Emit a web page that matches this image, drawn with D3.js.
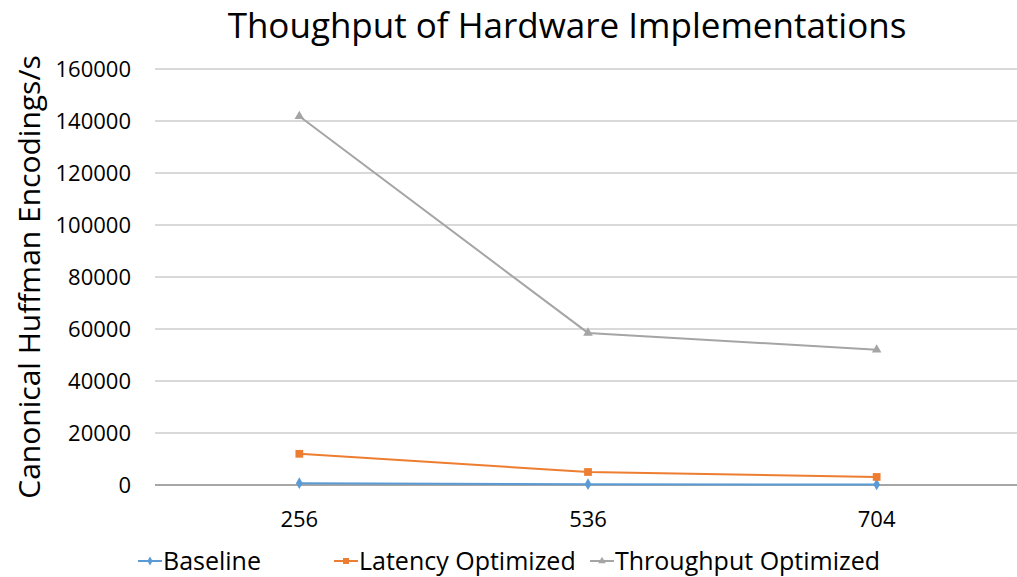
<!DOCTYPE html>
<html>
<head>
<script src="https://d3js.org/d3.v7.min.js"></script>
<style>
body { margin: 0; background: #fff; }
text { font-family: "Open Sans", sans-serif; fill: #000; }
</style>
</head>
<body>
<svg width="1017" height="577"></svg>
<script>

var categories = ["256", "536", "704"];
var yTicks = [0, 20000, 40000, 60000, 80000, 100000, 120000, 140000, 160000];
var baseline = [700, 300, 200];
var latency = [12000, 5000, 3100];
var throughput = [141800, 58500, 52000];

var series = [
	{name: "Baseline", values: baseline, color: "#5b9bd5", shape: "diamond"},
	{name: "Latency Optimized", values: latency, color: "#ed7d31", shape: "square"},
	{name: "Throughput Optimized", values: throughput, color: "#a5a5a5", shape: "triangle"}
];

var svg = d3.select("svg");
var plotLeft = 155, plotRight = 1021, plotTop = 69, plotBottom = 485;

var x = d3.scaleBand().domain(categories).range([plotLeft, plotRight]);
var y = d3.scaleLinear().domain([0, 160000]).range([plotBottom, plotTop]);

// gridlines
svg.append("g")
	.selectAll("line")
	.data(yTicks.slice(1))
	.enter().append("line")
	.attr("x1", plotLeft).attr("x2", plotRight)
	.attr("y1", function(d) { return y(d); })
	.attr("y2", function(d) { return y(d); })
	.attr("stroke", "#b3b3b3")
	.attr("stroke-width", 1.2);

svg.append("line")
	.attr("x1", plotLeft).attr("x2", plotRight)
	.attr("y1", y(0)).attr("y2", y(0))
	.attr("stroke", "#898989")
	.attr("stroke-width", 1.5);

// y tick labels
svg.append("g")
	.selectAll("text")
	.data(yTicks)
	.enter().append("text")
	.attr("x", 131)
	.attr("y", function(d) { return y(d); })
	.attr("dy", "0.35em")
	.attr("text-anchor", "end")
	.attr("font-size", 22)
	.text(function(d) { return d; });

// x tick labels
svg.append("g")
	.selectAll("text")
	.data(categories)
	.enter().append("text")
	.attr("x", function(d) { return x(d) + x.bandwidth() / 2; })
	.attr("y", 519)
	.attr("dy", "0.35em")
	.attr("text-anchor", "middle")
	.attr("font-size", 22)
	.text(function(d) { return d; });

var line = d3.line()
	.x(function(d, i) { return x(categories[i]) + x.bandwidth() / 2; })
	.y(function(d) { return y(d); });

var symbolType = {diamond: d3.symbolDiamond, square: d3.symbolSquare, triangle: d3.symbolTriangle};
var symbolSize = {diamond: 40, square: 60, triangle: 40};

series.forEach(function(s) {
	var g = svg.append("g");
	g.append("path")
		.attr("d", line(s.values))
		.attr("fill", "none")
		.attr("stroke", s.color)
		.attr("stroke-width", 2);
	g.selectAll("path.pt")
		.data(s.values)
		.enter().append("path")
		.attr("class", "pt")
		.attr("transform", function(d, i) {
			return "translate(" + (x(categories[i]) + x.bandwidth() / 2) + "," + y(d) + ")";
		})
		.attr("d", d3.symbol().type(symbolType[s.shape]).size(symbolSize[s.shape]))
		.attr("fill", s.color);
});

// title
svg.append("text")
	.attr("x", 567)
	.attr("y", 26)
	.attr("dy", "0.35em")
	.attr("text-anchor", "middle")
	.attr("font-size", 35)
	.text("Thoughput of Hardware Implementations");

// y axis title
svg.append("text")
	.attr("transform", "translate(29,277) rotate(-90)")
	.attr("dy", "0.35em")
	.attr("text-anchor", "middle")
	.attr("font-size", 30)
	.text("Canonical Huffman Encodings/s");

// legend
var legendX = [138, 334, 590];
var legend = svg.append("g")
	.selectAll("g")
	.data(series)
	.enter().append("g")
	.attr("transform", function(d, i) { return "translate(" + legendX[i] + ",561)"; });

legend.append("line")
	.attr("x1", 0).attr("x2", 24)
	.attr("stroke", function(d) { return d.color; })
	.attr("stroke-width", 2);
legend.append("path")
	.attr("transform", "translate(12,0)")
	.attr("d", function(d) { return d3.symbol().type(symbolType[d.shape]).size(symbolSize[d.shape] * 0.6)(); })
	.attr("fill", function(d) { return d.color; });
legend.append("text")
	.attr("x", 25)
	.attr("dy", "0.35em")
	.attr("font-size", 25)
	.text(function(d) { return d.name; });

</script>
</body>
</html>
